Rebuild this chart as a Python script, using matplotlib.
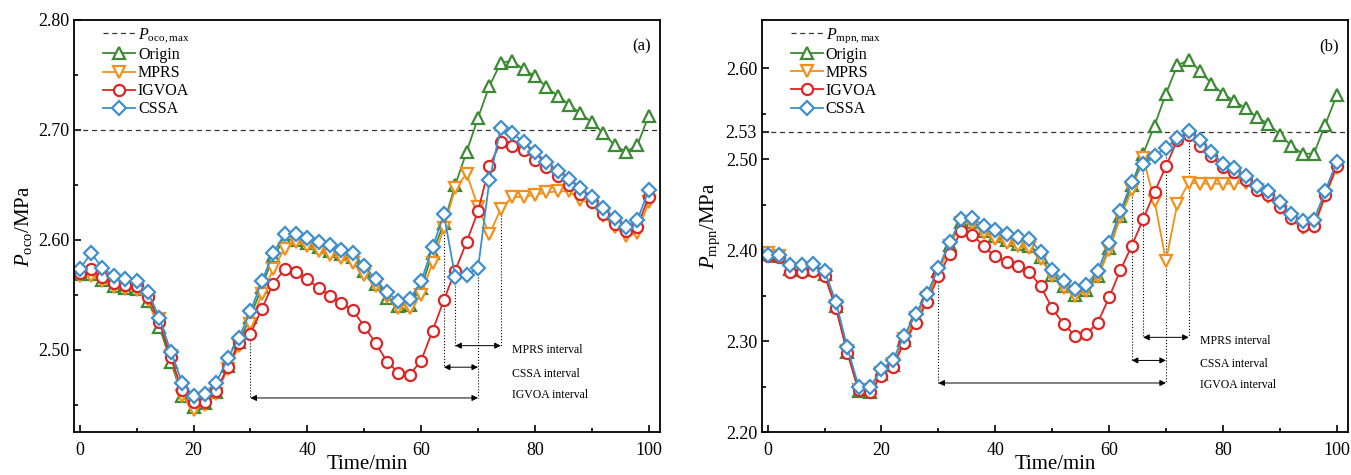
import matplotlib
matplotlib.use('Agg')
import matplotlib.pyplot as plt

plt.rcParams['font.family'] = ['Liberation Serif', 'DejaVu Serif']
plt.rcParams['mathtext.fontset'] = 'custom'
plt.rcParams['mathtext.rm'] = 'Liberation Serif'
plt.rcParams['mathtext.it'] = 'Liberation Serif:italic'

# time axis (min)
time = list(range(0, 101, 2))

# ---- (a) P_oco ----
a_origin = [2.569, 2.569, 2.563, 2.558, 2.556, 2.555, 2.544, 2.521, 2.489, 2.458,
            2.448, 2.451, 2.461, 2.485, 2.507, 2.530, 2.557, 2.585, 2.600, 2.600,
            2.597, 2.593, 2.590, 2.587, 2.584, 2.572, 2.560, 2.547, 2.540, 2.541,
            2.556, 2.588, 2.615, 2.650, 2.680, 2.711, 2.740, 2.761, 2.763, 2.755,
            2.749, 2.739, 2.731, 2.723, 2.715, 2.707, 2.697, 2.686, 2.680, 2.686,
            2.713]
a_mprs = [2.567, 2.567, 2.562, 2.557, 2.555, 2.554, 2.545, 2.528, 2.494, 2.458,
          2.445, 2.450, 2.460, 2.482, 2.503, 2.523, 2.551, 2.573, 2.592, 2.598,
          2.594, 2.590, 2.586, 2.583, 2.579, 2.568, 2.558, 2.548, 2.538, 2.538,
          2.550, 2.579, 2.611, 2.647, 2.660, 2.630, 2.605, 2.628, 2.639, 2.639,
          2.641, 2.643, 2.644, 2.644, 2.636, 2.633, 2.622, 2.612, 2.603, 2.606,
          2.634]
a_igvoa = [2.570, 2.573, 2.566, 2.561, 2.559, 2.558, 2.548, 2.525, 2.493, 2.463,
           2.452, 2.452, 2.462, 2.484, 2.506, 2.514, 2.537, 2.560, 2.573, 2.571,
           2.564, 2.556, 2.549, 2.542, 2.536, 2.521, 2.506, 2.489, 2.479, 2.477,
           2.490, 2.517, 2.545, 2.572, 2.598, 2.626, 2.667, 2.689, 2.685, 2.682,
           2.673, 2.666, 2.658, 2.650, 2.642, 2.634, 2.623, 2.614, 2.608, 2.612,
           2.639]
a_cssa = [2.573, 2.588, 2.574, 2.567, 2.564, 2.562, 2.552, 2.529, 2.498, 2.470,
          2.458, 2.460, 2.470, 2.492, 2.511, 2.535, 2.562, 2.588, 2.605, 2.605,
          2.602, 2.598, 2.595, 2.591, 2.588, 2.576, 2.564, 2.552, 2.544, 2.546,
          2.562, 2.593, 2.623, 2.566, 2.568, 2.574, 2.654, 2.702, 2.697, 2.689,
          2.680, 2.671, 2.663, 2.655, 2.647, 2.639, 2.629, 2.620, 2.612, 2.618,
          2.645]
a_limit = 2.70

# ---- (b) P_mpn ----
b_origin = [2.396, 2.394, 2.379, 2.378, 2.379, 2.374, 2.338, 2.288, 2.245, 2.244,
            2.264, 2.274, 2.301, 2.326, 2.348, 2.377, 2.406, 2.431, 2.431, 2.421,
            2.415, 2.411, 2.407, 2.405, 2.392, 2.373, 2.360, 2.351, 2.356, 2.371,
            2.402, 2.438, 2.472, 2.506, 2.537, 2.572, 2.603, 2.609, 2.597, 2.583,
            2.572, 2.564, 2.556, 2.546, 2.539, 2.527, 2.515, 2.506, 2.506, 2.538,
            2.570]
b_mprs = [2.397, 2.393, 2.378, 2.377, 2.378, 2.373, 2.338, 2.289, 2.246, 2.245,
          2.265, 2.275, 2.302, 2.325, 2.347, 2.375, 2.405, 2.430, 2.429, 2.419,
          2.412, 2.408, 2.404, 2.402, 2.390, 2.372, 2.358, 2.350, 2.355, 2.370,
          2.400, 2.436, 2.466, 2.501, 2.454, 2.388, 2.451, 2.474, 2.473, 2.473,
          2.473, 2.473, 2.474, 2.466, 2.458, 2.446, 2.434, 2.424, 2.425, 2.459,
          2.490]
b_igvoa = [2.394, 2.392, 2.376, 2.376, 2.377, 2.372, 2.336, 2.287, 2.246, 2.244,
           2.262, 2.272, 2.298, 2.320, 2.343, 2.371, 2.396, 2.421, 2.417, 2.404,
           2.393, 2.387, 2.382, 2.376, 2.360, 2.336, 2.319, 2.306, 2.308, 2.320,
           2.348, 2.378, 2.405, 2.434, 2.464, 2.492, 2.521, 2.527, 2.515, 2.504,
           2.491, 2.486, 2.477, 2.466, 2.461, 2.447, 2.435, 2.426, 2.426, 2.461,
           2.492]
b_cssa = [2.395, 2.395, 2.384, 2.384, 2.385, 2.377, 2.343, 2.293, 2.250, 2.249,
          2.269, 2.279, 2.306, 2.330, 2.352, 2.380, 2.409, 2.434, 2.435, 2.426,
          2.422, 2.418, 2.414, 2.412, 2.398, 2.378, 2.366, 2.357, 2.362, 2.377,
          2.408, 2.443, 2.475, 2.495, 2.504, 2.512, 2.523, 2.531, 2.521, 2.508,
          2.495, 2.490, 2.481, 2.471, 2.465, 2.453, 2.440, 2.432, 2.433, 2.465,
          2.497]
b_limit = 2.53

names = ['Origin', 'MPRS', 'IGVOA', 'CSSA']
colors = ['#3c8a33', '#f39019', '#dc2626', '#3d8fcf']
markers = ['^', 'v', 'o', 'D']
msizes = [8.5, 8.5, 8.0, 7.0]


def draw_series(ax, series, limit, limit_label):
    ax.axhline(limit, color='#333333', ls='--', lw=0.9, dashes=(4, 3), label=limit_label)
    for vals, name, c, m, ms in zip(series, names, colors, markers, msizes):
        ax.plot(time, vals, color=c, marker=m, ms=ms, mfc='white', mec=c,
                mew=1.6, lw=1.3, label=name)


def interval(ax, x0, x1, y, text, ty):
    ax.annotate('', xy=(x0, y), xytext=(x1, y),
                arrowprops=dict(arrowstyle='<|-|>', color='k', lw=0.7,
                                mutation_scale=9, shrinkA=0, shrinkB=0))
    ax.text(76, ty, text, fontsize=8.5, va='center', ha='left')


def vline(ax, x, y0, y1):
    ax.plot([x, x], [y0, y1], color='k', ls=':', lw=0.8, zorder=1)


def style_axes(ax):
    ax.set_xlim(-1, 102)
    ax.set_xticks(range(0, 101, 20))
    ax.set_xticks(range(10, 100, 20), minor=True)
    ax.tick_params(which='both', direction='in', labelsize=13, width=1.2)
    ax.tick_params(which='major', length=5)
    ax.tick_params(which='minor', length=3)
    ax.tick_params(axis='x', pad=7)
    for s in ax.spines.values():
        s.set_linewidth(1.3)
    ax.set_xlabel('Time/min', fontsize=15, labelpad=-3)
    ax.legend(loc='upper left', bbox_to_anchor=(0.03, 1.012), frameon=False,
              fontsize=11.5, handlelength=2.0, handletextpad=0.2,
              labelspacing=0.13, borderpad=0.2)


fig = plt.figure(figsize=(13.51, 4.75), dpi=100)
ax1 = fig.add_axes([0.0548, 0.0905, 0.4338, 0.8674])
ax2 = fig.add_axes([0.564, 0.0905, 0.4338, 0.8674])

# (a)
draw_series(ax1, [a_origin, a_mprs, a_igvoa, a_cssa], a_limit, r'$P_{\rm oco,max}$')
ax1.set_ylim(2.425, 2.80)
ax1.set_yticks([2.50, 2.60, 2.70, 2.80])
ax1.set_yticks([2.45, 2.55, 2.65, 2.75], minor=True)
ax1.yaxis.set_major_formatter(matplotlib.ticker.FormatStrFormatter('%.2f'))
ax1.set_ylabel(r'$P_{\rm oco}$/MPa', fontsize=15, labelpad=3)
ax1.text(0.985, 0.955, '(a)', transform=ax1.transAxes, ha='right', va='top', fontsize=12)
vline(ax1, 30, a_igvoa[15], 2.456)
vline(ax1, 64, a_cssa[32], 2.484)
vline(ax1, 66, a_cssa[33], 2.5036)
vline(ax1, 70, a_cssa[35], 2.456)
vline(ax1, 74, a_mprs[37], 2.5036)
interval(ax1, 66, 74, 2.5036, 'MPRS interval', 2.500)
interval(ax1, 64, 70, 2.484, 'CSSA interval', 2.478)
interval(ax1, 30, 70, 2.456, 'IGVOA interval', 2.4585)
style_axes(ax1)

# (b)
draw_series(ax2, [b_origin, b_mprs, b_igvoa, b_cssa], b_limit, r'$P_{\rm mpn,max}$')
ax2.set_ylim(2.20, 2.653)
ax2.set_yticks([2.20, 2.30, 2.40, 2.50, 2.53, 2.60])
ax2.set_yticks([2.25, 2.35, 2.45, 2.55], minor=True)
ax2.yaxis.set_major_formatter(matplotlib.ticker.FormatStrFormatter('%.2f'))
ax2.set_ylabel(r'$P_{\rm mpn}$/MPa', fontsize=15, labelpad=3)
ax2.text(0.985, 0.955, '(b)', transform=ax2.transAxes, ha='right', va='top', fontsize=12)
vline(ax2, 30, b_igvoa[15], 2.2539)
vline(ax2, 64, b_cssa[32], 2.2787)
vline(ax2, 66, b_cssa[33], 2.3041)
vline(ax2, 70, b_cssa[35], 2.2539)
vline(ax2, 74, b_cssa[37], 2.3041)
interval(ax2, 66, 74, 2.3041, 'MPRS interval', 2.3005)
interval(ax2, 64, 70, 2.2787, 'CSSA interval', 2.275)
interval(ax2, 30, 70, 2.2539, 'IGVOA interval', 2.2514)
style_axes(ax2)

plt.savefig('out.png', dpi=100)
